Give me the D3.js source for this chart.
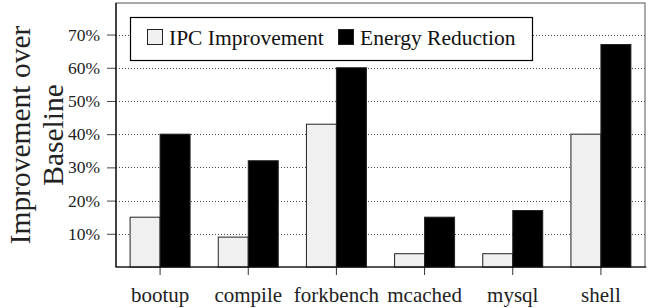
<!DOCTYPE html>
<html>
<head>
<meta charset="utf-8">
<script src="https://cdn.jsdelivr.net/npm/d3@7"></script>
<style>
  html, body { margin: 0; padding: 0; background: #fff; }
  svg { display: block; }
</style>
</head>
<body>
<svg id="chart" width="652" height="308"></svg>
<script>
const categories = ["bootup", "compile", "forkbench", "mcached", "mysql", "shell"];
const seriesNames = ["IPC Improvement", "Energy Reduction"];
const ipcImprovement = [15, 9, 43, 4, 4, 40];
const energyReduction = [40, 32, 60, 15, 17, 67];
const yTicks = [10, 20, 30, 40, 50, 60, 70];
const yTitleLines = ["Improvement over", "Baseline"];

const FONT = "'Liberation Serif'";
const W = 652, H = 308;
const margin = { top: 3, right: 7, bottom: 41, left: 116 };
const svg = d3.select("#chart");

const x = d3.scaleBand().domain(categories).range([margin.left, W - margin.right]).padding(0);
const x1 = d3.scaleBand().domain(seriesNames).range([0, x.bandwidth()]).paddingInner(0).paddingOuter(0.47);
const y = d3.scaleLinear().domain([0, 79.5]).range([H - margin.bottom, margin.top]);
const color = d3.scaleOrdinal().domain(seriesNames).range(["#f0f0f0", "#000000"]);

const rows = categories.map((c, i) => ({ cat: c, values: [ipcImprovement[i], energyReduction[i]] }));

// frame (top & right)
svg.append("rect")
  .attr("x", margin.left).attr("y", margin.top)
  .attr("width", W - margin.right - margin.left)
  .attr("height", H - margin.bottom - margin.top)
  .attr("fill", "none").attr("stroke", "#555").attr("stroke-width", 1);

// gridlines
svg.append("g").selectAll("line").data(yTicks).join("line")
  .attr("x1", margin.left).attr("x2", W - margin.right)
  .attr("y1", d => Math.round(y(d)) + 0.5).attr("y2", d => Math.round(y(d)) + 0.5)
  .attr("stroke", "#444").attr("stroke-width", 1).attr("stroke-dasharray", "1,2");

// bars
svg.append("g").selectAll("g").data(rows).join("g")
  .attr("transform", d => `translate(${x(d.cat)},0)`)
  .selectAll("rect").data(d => d.values.map((v, j) => ({ s: seriesNames[j], v })))
  .join("rect")
  .attr("x", d => x1(d.s))
  .attr("y", d => y(d.v))
  .attr("width", x1.bandwidth())
  .attr("height", d => y(0) - y(d.v))
  .attr("fill", d => color(d.s))
  .attr("stroke", "#222").attr("stroke-width", 1);

// y axis
const yAxis = svg.append("g")
  .attr("transform", `translate(${margin.left},0)`)
  .call(d3.axisLeft(y).tickValues(yTicks).tickFormat(d => d + "%").tickSize(9).tickPadding(7));
yAxis.attr("font-family", null).attr("font-size", null);
yAxis.select(".domain").remove();
yAxis.selectAll(".tick line").attr("stroke", "#444");
yAxis.selectAll(".tick text").style("font-size", "17.5px").style("font-family", FONT).attr("fill", "#222");
svg.append("line")
  .attr("x1", margin.left).attr("x2", margin.left)
  .attr("y1", margin.top).attr("y2", H - margin.bottom)
  .attr("stroke", "#000").attr("stroke-width", 1.2);

// x axis
const xAxis = svg.append("g")
  .attr("transform", `translate(0,${H - margin.bottom})`)
  .call(d3.axisBottom(x).tickSize(8).tickPadding(12));
xAxis.attr("font-family", null).attr("font-size", null);
xAxis.select(".domain").remove();
xAxis.selectAll(".tick line").attr("stroke", "#333");
xAxis.selectAll(".tick text").style("font-size", "21px").style("font-family", FONT).attr("fill", "#222");
svg.append("line")
  .attr("x1", margin.left - 0.5).attr("x2", W - margin.right + 1.5)
  .attr("y1", H - margin.bottom).attr("y2", H - margin.bottom)
  .attr("stroke", "#000").attr("stroke-width", 1.2);

// y title
const cy = (margin.top + H - margin.bottom) / 2;
const titleX = [30, 63];
svg.append("g").selectAll("text").data(yTitleLines).join("text")
  .attr("transform", (d, i) => `translate(${titleX[i]},${cy}) rotate(-90)`)
  .attr("text-anchor", "middle")
  .style("font-size", "29.5px").style("font-family", FONT).attr("fill", "#222")
  .text(d => d);

// legend
const lg = svg.append("g");
lg.append("rect").attr("x", 130.5).attr("y", 17.5).attr("width", 402).attr("height", 43)
  .attr("fill", "#fff").attr("stroke", "#000").attr("stroke-width", 1.2);
const legendX = [147, 338];
const li = lg.selectAll("g.item").data(seriesNames).join("g").attr("class", "item")
  .attr("transform", (d, i) => `translate(${legendX[i]},0)`);
li.append("rect").attr("x", 0.5).attr("y", 29.5).attr("width", 15).attr("height", 15)
  .attr("fill", d => color(d)).attr("stroke", "#222").attr("stroke-width", 1);
li.append("text").attr("x", 22).attr("y", 45)
  .style("font-size", "21.5px").style("font-family", FONT).attr("fill", "#111")
  .text(d => d);
</script>
</body>
</html>
